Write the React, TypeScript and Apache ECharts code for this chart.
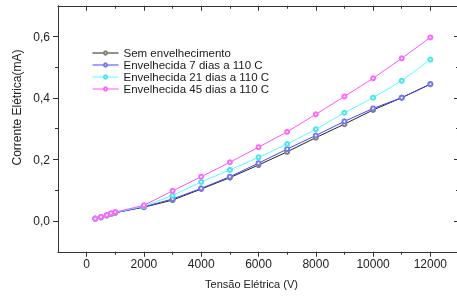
import React, { useEffect, useRef } from "react";
import * as echarts from "echarts";

const voltage = [300, 500, 700, 850, 1000, 2000, 3000, 4000, 5000, 6000, 7000, 8000, 9000, 10000, 11000, 12000];
const semEnvelhecimento = [0.008, 0.012, 0.018, 0.023, 0.027, 0.045, 0.068, 0.104, 0.141, 0.182, 0.225, 0.271, 0.315, 0.361, 0.401, 0.445];
const dias7 = [0.008, 0.012, 0.018, 0.023, 0.027, 0.046, 0.0715, 0.106, 0.144, 0.188, 0.234, 0.278, 0.324, 0.366, 0.401, 0.445];
const dias21 = [0.008, 0.013, 0.019, 0.024, 0.028, 0.048, 0.083, 0.127, 0.166, 0.207, 0.25, 0.298, 0.352, 0.401, 0.456, 0.525];
const dias45 = [0.0075, 0.013, 0.019, 0.025, 0.029, 0.051, 0.098, 0.144, 0.191, 0.24, 0.29, 0.347, 0.405, 0.464, 0.529, 0.597];

const seriesNames = ["Sem envelhecimento", "Envelhecida 7 dias a 110 C", "Envelhecida 21 dias a 110 C", "Envelhecida 45 dias a 110 C"];
const xMajor = [0, 2000, 4000, 6000, 8000, 10000, 12000];
const xMinor = [1000, 3000, 5000, 7000, 9000, 11000];
const yMajor = [0, 0.2, 0.4, 0.6];
const yMinor = [0.1, 0.3, 0.5];

const FONT = "'Liberation Sans', Arial, sans-serif";
const AXIS_COLOR = "#333";

export default function App() {
  const ref = useRef<HTMLDivElement>(null);
  useEffect(() => {
    if (!ref.current) return;
    const chart = echarts.init(ref.current, null, { renderer: "svg" });
    const xRange = { min: -1000, max: 13000 };
    const yRange = { min: -0.1, max: 0.7 };
    const lineAx = { show: true, onZero: false, lineStyle: { color: AXIS_COLOR, width: 1 } };
    const noLine = { show: false, onZero: false };
    const mkX = (position: string, values: number[], len: number, inside: boolean, labels: boolean, line: boolean) => ({
      type: "value",
      gridIndex: 0,
      position,
      ...xRange,
      axisLine: line ? lineAx : noLine,
      splitLine: { show: false },
      axisTick: { show: true, customValues: values, length: len, inside, lineStyle: { color: AXIS_COLOR, width: 1 } },
      axisLabel: labels
        ? { show: true, customValues: values, margin: 6, color: "#222", fontSize: 12, fontFamily: FONT, formatter: (v: number) => String(v) }
        : { show: false },
    });
    const mkY = (position: string, values: number[], len: number, inside: boolean, labels: boolean, line: boolean) => ({
      type: "value",
      gridIndex: 0,
      position,
      ...yRange,
      axisLine: line ? lineAx : noLine,
      splitLine: { show: false },
      axisTick: { show: true, customValues: values, length: len, inside, lineStyle: { color: AXIS_COLOR, width: 1 } },
      axisLabel: labels
        ? { show: true, customValues: values, margin: 8, color: "#222", fontSize: 12, fontFamily: FONT, formatter: (v: number) => v.toFixed(1).replace(".", ",") }
        : { show: false },
    });
    const xAxis: any[] = [
      {
        ...mkX("bottom", xMajor, 5, false, true, true),
        name: "Tensão Elétrica (V)",
        nameLocation: "middle",
        nameGap: 27,
        nameTextStyle: { color: "#222", fontSize: 11, fontFamily: FONT, padding: [0, 14, 0, 0] },
      },
      mkX("bottom", xMinor, 3, false, false, false),
      mkX("top", xMajor, 5, true, false, true),
      mkX("top", xMinor, 3, true, false, false),
    ];
    const yAxis: any[] = [
      mkY("left", yMajor, 5, false, true, true),
      mkY("left", yMinor, 3, false, false, false),
      mkY("right", yMajor, 5, true, false, true),
      mkY("right", yMinor, 3, true, false, false),
    ];
    const colors = [
      { line: "#222222", item: "#808080" },
      { line: "#4444ff", item: "#7777ee" },
      { line: "#55ffff", item: "#44e8e8" },
      { line: "#ff55ff", item: "#ff66ff" },
    ];
    const valueSets = [semEnvelhecimento, dias7, dias21, dias45];
    const series = valueSets.map((vals, i) => ({
      type: "line",
      name: seriesNames[i],
      xAxisIndex: 0,
      yAxisIndex: 0,
      data: voltage.map((x, j) => [x, vals[j]]),
      symbol: "emptyCircle",
      symbolSize: 4,
      showSymbol: true,
      lineStyle: { color: colors[i].line, width: 1 },
      itemStyle: { color: colors[i].item, borderWidth: 1 },
      z: 2 + i,
    }));
    chart.setOption({
      animation: false,
      grid: { left: 58, top: 5.75, width: 401, height: 246, containLabel: false, outerBoundsMode: "none" },
      xAxis,
      yAxis,
      legend: {
        orient: "vertical",
        left: 92,
        top: 47,
        padding: 0,
        itemGap: 0,
        itemWidth: 26,
        itemHeight: 4,
        data: seriesNames,
        lineStyle: { width: 1 },
        itemStyle: { borderWidth: 1 },
        textStyle: { color: "#1a1a1a", fontSize: 11.5, fontFamily: FONT, lineHeight: 11.5 },
      },
      graphic: [
        {
          type: "text",
          x: 17,
          y: 107.5,
          rotation: Math.PI / 2,
          style: {
            text: "Corrente Elétrica(mA)",
            fill: "#222",
            fontSize: 12,
            fontFamily: FONT,
            textAlign: "center",
            textVerticalAlign: "middle",
          },
        },
      ],
      series,
    });
    return () => chart.dispose();
  }, []);
  return <div ref={ref} style={{ position: "fixed", left: 0, top: 0, width: 457, height: 298 }} />;
}
